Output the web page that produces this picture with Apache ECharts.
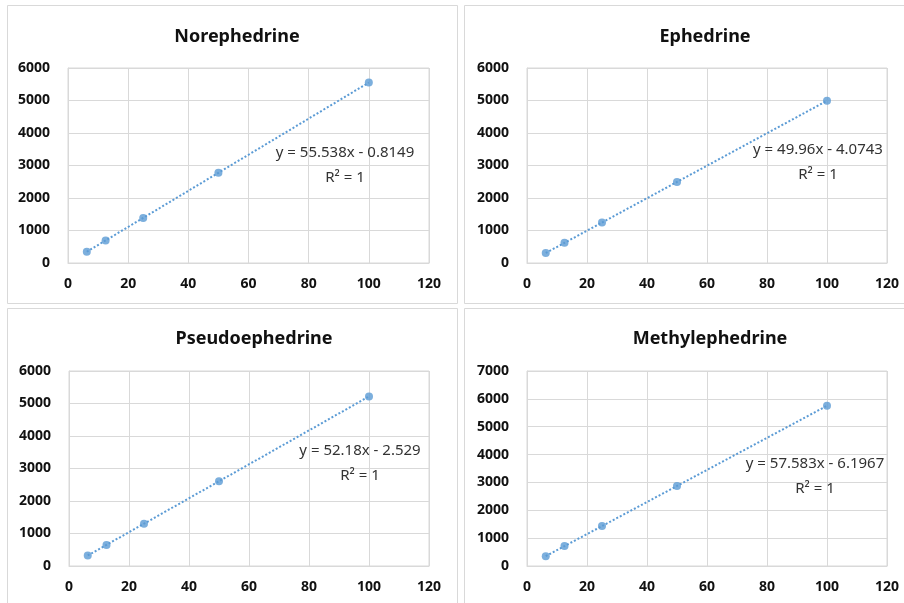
<!DOCTYPE html>
<html lang="en">
<head>
  <meta charset="UTF-8">
  <title>Calibration curves</title>
  <style>
    html, body { margin: 0; padding: 0; background: #fff; }
    #chart { width: 904px; height: 603px; }
  </style>
</head>
<body>
<div id="chart"></div>
<script src="https://cdn.jsdelivr.net/npm/echarts@6/dist/echarts.min.js"></script>
<script>
  // concentrations (x) shared by all four curves
  var conc = [6.25, 12.5, 25, 50, 100]

  var names = ['Norephedrine', 'Ephedrine', 'Pseudoephedrine', 'Methylephedrine']
  var norephedrine = [346, 694, 1388, 2776, 5553]
  var ephedrine = [308, 620, 1245, 2494, 4992]
  var pseudoephedrine = [324, 650, 1302, 2607, 5216]
  var methylephedrine = [354, 714, 1433, 2873, 5752]
  var equations = [
    'y = 55.538x - 0.8149',
    'y = 49.96x - 4.0743',
    'y = 52.18x - 2.529',
    'y = 57.583x - 6.1967'
  ]
  var yMax = [6000, 6000, 6000, 7000]
  var xTicks = { min: 0, max: 120, interval: 20 }

  var values = [norephedrine, ephedrine, pseudoephedrine, methylephedrine]

  // layout of each panel
  var panels = [
    { box: [7, 5, 450, 298], grid: [68, 68, 361, 195], title: [237, 37], eq: [345, 153] },
    { box: [464, 5, 445, 298], grid: [527, 68, 360, 195], title: [705, 37], eq: [818, 150] },
    { box: [7, 308, 450, 300], grid: [69, 371, 360, 195], title: [254, 339], eq: [360, 451] },
    { box: [464, 308, 445, 300], grid: [527, 371, 360, 195], title: [710, 339], eq: [815, 464] }
  ]

  var blue = '#5b9bd5'
  var gridGray = '#d9d9d9'
  var font = '"Noto Sans", sans-serif'

  var chart = echarts.init(document.getElementById('chart'), null, { renderer: 'canvas' })

  var grids = [], xAxes = [], yAxes = [], series = [], graphics = []

  panels.forEach(function(p, i) {
    graphics.push({
      type: 'rect', z: -10, silent: true,
      shape: { x: p.box[0] + 0.5, y: p.box[1] + 0.5, width: p.box[2], height: p.box[3] },
      style: { fill: '#fff', stroke: gridGray, lineWidth: 1 }
    })
    graphics.push({
      type: 'text', silent: true,
      x: p.title[0], y: p.title[1],
      style: { text: names[i], font: 'bold 18px ' + font, fill: '#111', align: 'center', verticalAlign: 'middle' }
    })
    graphics.push({
      type: 'text', silent: true, z: 10,
      x: p.eq[0], y: p.eq[1],
      style: { text: equations[i], font: '15px ' + font, fill: '#333', align: 'center', verticalAlign: 'middle' }
    })
    graphics.push({
      type: 'text', silent: true, z: 10,
      x: p.eq[0], y: p.eq[1] + 25,
      style: { text: 'R² = 1', font: '15px ' + font, fill: '#333', align: 'center', verticalAlign: 'middle' }
    })

    grids.push({
      left: p.grid[0], top: p.grid[1], width: p.grid[2], height: p.grid[3],
      show: true, borderColor: gridGray, borderWidth: 1, backgroundColor: 'transparent'
    })
    xAxes.push({
      gridIndex: i, type: 'value', min: xTicks.min, max: xTicks.max, interval: xTicks.interval,
      axisLine: { show: true, lineStyle: { color: gridGray } },
      axisTick: { show: false },
      splitLine: { show: true, lineStyle: { color: gridGray } },
      axisLabel: { color: '#111', fontWeight: 'bold', fontSize: 14, fontFamily: font, margin: 14 }
    })
    yAxes.push({
      gridIndex: i, type: 'value', min: 0, max: yMax[i], interval: 1000,
      axisLine: { show: true, lineStyle: { color: gridGray } },
      axisTick: { show: false },
      splitLine: { show: true, lineStyle: { color: gridGray } },
      axisLabel: {
        color: '#111', fontWeight: 'bold', fontSize: 14, fontFamily: font, margin: 18,
        formatter: function(v) { return String(v) }
      }
    })

    var pts = conc.map(function(c, k) { return [c, values[i][k]] })
    series.push({
      type: 'line', xAxisIndex: i, yAxisIndex: i, data: pts,
      showSymbol: false, silent: true, z: 2,
      lineStyle: { color: blue, width: 2, type: [2, 2] }
    })
    series.push({
      type: 'scatter', xAxisIndex: i, yAxisIndex: i, data: pts,
      symbolSize: 8, z: 3,
      itemStyle: { color: blue }
    })
  })

  var option = {
    animation: false,
    backgroundColor: '#fff',
    grid: grids,
    xAxis: xAxes,
    yAxis: yAxes,
    series: series,
    graphic: graphics
  }

  chart.setOption(option)
  window.addEventListener('resize', chart.resize)
</script>
</body>
</html>
